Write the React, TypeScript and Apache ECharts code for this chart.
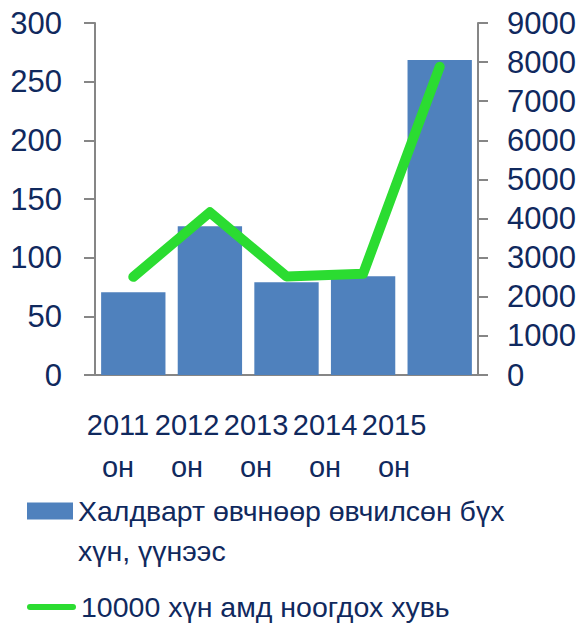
import React, { useEffect, useRef } from "react";
import * as echarts from "echarts";

const categories = ["2011 он", "2012 он", "2013 он", "2014 он", "2015 он"];
const barName = "Халдварт өвчнөөр өвчилсөн бүх хүн, үүнээс";
const lineName = "10000 хүн амд ноогдох хувь";
const barValues = [70.5, 126.8, 79, 84.2, 268.4];
const lineValues = [2510, 4160, 2520, 2590, 7880];

const TEXT = "#10295E";
const AXIS = "#868686";
const FONT = "Liberation Sans";
const GREEN = "#2BDC31";

export default function App() {
  const ref = useRef<HTMLDivElement>(null);
  useEffect(() => {
    const chart = echarts.init(ref.current!, null, { renderer: "svg" });
    chart.setOption({
      animation: false,
      textStyle: { fontFamily: FONT },
      grid: [
        { left: 95, right: 104, top: 23, bottom: 249 },
        { left: 83.5, width: 345, top: 23, bottom: 249 },
      ],
      xAxis: [
        {
          type: "category",
          gridIndex: 0,
          data: categories,
          axisLine: { lineStyle: { color: AXIS, width: 2 } },
          axisTick: { length: 9, lineStyle: { color: AXIS, width: 2 } },
          axisLabel: { show: false },
        },
        {
          type: "category",
          gridIndex: 1,
          data: categories,
          axisLine: { show: false },
          axisTick: { show: false },
          axisLabel: {
            interval: 0,
            color: TEXT,
            fontFamily: FONT,
            fontSize: 29,
            lineHeight: 42,
            margin: 29,
            formatter: (v: string) => v.replace(" ", "\n"),
          },
        },
      ],
      yAxis: [
        {
          type: "value",
          gridIndex: 0,
          min: 0,
          max: 300,
          interval: 50,
          splitLine: { show: false },
          axisLine: { show: true, lineStyle: { color: AXIS, width: 2 } },
          axisTick: { show: true, length: 11, lineStyle: { color: AXIS, width: 2 } },
          axisLabel: { color: TEXT, fontFamily: FONT, fontSize: 31, margin: 33 },
        },
        {
          type: "value",
          gridIndex: 0,
          position: "right",
          min: 0,
          max: 9000,
          interval: 1000,
          splitLine: { show: false },
          axisLine: { show: true, lineStyle: { color: AXIS, width: 2 } },
          axisTick: { show: true, length: 10, lineStyle: { color: AXIS, width: 2 } },
          axisLabel: {
            color: TEXT,
            fontFamily: FONT,
            fontSize: 31,
            margin: 29,
            formatter: (v: number) => String(v),
          },
        },
        {
          type: "value",
          gridIndex: 1,
          show: false,
          splitLine: { show: false },
        },
      ],
      legend: [
        {
          data: [{ name: barName, icon: "rect" }],
          orient: "vertical",
          left: 27,
          top: 451,
          padding: 0,
          itemWidth: 46,
          itemHeight: 17,
          formatter: () => " \nХалдварт өвчнөөр өвчилсөн бүх\nхүн, үүнээс",
          textStyle: {
            color: TEXT,
            fontFamily: FONT,
            fontSize: 28.5,
            lineHeight: 40,
          },
        },
        {
          data: [
            {
              name: lineName,
              icon: "path://M3,0L46,0A3,3,0,0,1,46,6L3,6A3,3,0,0,1,3,0Z",
              itemStyle: { color: GREEN },
            },
          ],
          orient: "vertical",
          left: 27,
          top: 587,
          padding: 0,
          itemWidth: 49,
          itemHeight: 6,
          textStyle: {
            color: TEXT,
            fontFamily: FONT,
            fontSize: 28.5,
            lineHeight: 40,
          },
        },
      ],
      series: [
        {
          name: barName,
          type: "bar",
          xAxisIndex: 0,
          yAxisIndex: 0,
          data: barValues,
          barCategoryGap: "16%",
          itemStyle: { color: "#4F81BD" },
        },
        {
          name: lineName,
          type: "line",
          xAxisIndex: 0,
          yAxisIndex: 1,
          data: lineValues,
          symbol: "none",
          lineStyle: { color: GREEN, width: 10, cap: "round", join: "round" },
          itemStyle: { color: GREEN },
        },
      ],
    });
    return () => chart.dispose();
  }, []);
  return (
    <div
      ref={ref}
      style={{ position: "absolute", left: 0, top: 0, width: 582, height: 624 }}
    />
  );
}
